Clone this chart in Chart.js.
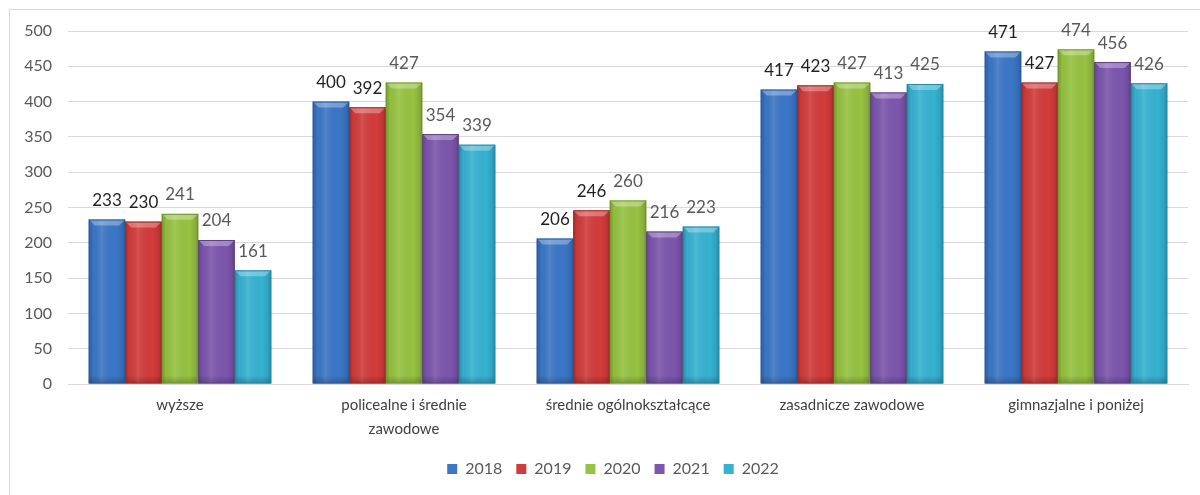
<!DOCTYPE html>
<html>
<head>
<meta charset="utf-8">
<script src="https://cdn.jsdelivr.net/npm/chart.js@4"></script>
<style>
  html, body { margin: 0; padding: 0; background: #fff; }
  body { width: 1200px; height: 495px; overflow: hidden; position: relative; }
  #frame { position: absolute; left: 9px; top: 9px; width: 1200px; height: 500px; border: 1px solid #d9d9d9; box-sizing: border-box; }
  #wrap { position: absolute; left: 0; top: 0; width: 1200px; height: 495px; }
</style>
</head>
<body>
<div id="frame"></div>
<div id="wrap"><canvas id="c"></canvas></div>
<script>
const categories = ["wyższe", ["policealne i średnie", "zawodowe"], "średnie ogólnokształcące", "zasadnicze zawodowe", "gimnazjalne i poniżej"];
const seriesNames = ["2018", "2019", "2020", "2021", "2022"];
const v2018 = [233, 400, 206, 417, 471];
const v2019 = [230, 392, 246, 423, 427];
const v2020 = [241, 427, 260, 427, 474];
const v2021 = [204, 354, 216, 413, 456];
const v2022 = [161, 339, 223, 425, 426];
const seriesValues = [v2018, v2019, v2020, v2021, v2022];
const yTicks = [0, 50, 100, 150, 200, 250, 300, 350, 400, 450, 500];

const baseColors = ["#3b77c6", "#d23c3c", "#97c342", "#7d56ad", "#36b2d2"];
const edgeColors = ["#2a5a9c", "#a42a2a", "#729a2c", "#5e4185", "#2588a3"];
const labelColors = ["#1f1f1f", "#1f1f1f", "#595959", "#595959", "#595959"];
const FONT = "Lato, 'Open Sans', sans-serif";

const barShade = {
  id: 'barShade',
  afterDatasetsDraw(chart) {
    const ctx = chart.ctx;
    const area = chart.chartArea;
    ctx.save();
    ctx.beginPath();
    ctx.rect(area.left, area.top - 40, area.right - area.left, area.bottom - area.top + 41);
    ctx.clip();
    chart.data.datasets.forEach((ds, di) => {
      const meta = chart.getDatasetMeta(di);
      meta.data.forEach((bar) => {
        const p = bar.getProps(['x', 'y', 'base', 'width'], true);
        const l = p.x - p.width / 2, r = p.x + p.width / 2;
        const t = Math.min(p.y, p.base), b = Math.max(p.y, p.base);
        const g = ctx.createLinearGradient(l, 0, r, 0);
        g.addColorStop(0, 'rgba(0,0,0,0.22)');
        g.addColorStop(0.12, 'rgba(0,0,0,0.03)');
        g.addColorStop(0.35, 'rgba(255,255,255,0.10)');
        g.addColorStop(0.75, 'rgba(0,0,0,0.0)');
        g.addColorStop(0.92, 'rgba(0,0,0,0.10)');
        g.addColorStop(1, 'rgba(0,0,0,0.26)');
        ctx.fillStyle = g;
        ctx.fillRect(l, t, r - l, b - t);
        const bv = 6;
        ctx.beginPath();
        ctx.moveTo(l, t);
        ctx.lineTo(r, t);
        ctx.lineTo(r - bv, t + bv);
        ctx.lineTo(l + bv, t + bv);
        ctx.closePath();
        ctx.fillStyle = 'rgba(255,255,255,0.30)';
        ctx.fill();
        const gb = ctx.createLinearGradient(0, b - 8, 0, b);
        gb.addColorStop(0, 'rgba(0,0,0,0)');
        gb.addColorStop(1, 'rgba(0,0,0,0.22)');
        ctx.fillStyle = gb;
        ctx.fillRect(l, b - 8, r - l, 8);
        ctx.strokeStyle = edgeColors[di];
        ctx.lineWidth = 1;
        ctx.strokeRect(l + 0.5, t + 0.5, r - l - 1, b - t - 1);
      });
    });
    ctx.restore();
  }
};

const valueLabels = {
  id: 'valueLabels',
  afterDatasetsDraw(chart) {
    const ctx = chart.ctx;
    ctx.save();
    ctx.font = "17px " + FONT;
    ctx.textAlign = 'center';
    ctx.textBaseline = 'middle';
    chart.data.datasets.forEach((ds, di) => {
      const meta = chart.getDatasetMeta(di);
      meta.data.forEach((bar, i) => {
        const p = bar.getProps(['x', 'y'], true);
        ctx.fillStyle = labelColors[di];
        ctx.fillText(String(ds.data[i]), p.x, p.y - 19);
      });
    });
    ctx.restore();
  }
};

const legendShift = {
  id: 'legendShift',
  afterLayout(chart) {
    if (chart.legend) {
      chart.legend.left += 19;
      chart.legend.right += 19;
    }
  }
};

const datasets = seriesNames.map((name, i) => ({
  label: name,
  data: seriesValues[i],
  backgroundColor: baseColors[i],
  borderWidth: 0,
  barPercentage: 1.0,
  categoryPercentage: 0.815
}));

new Chart(document.getElementById('c'), {
  type: 'bar',
  data: { labels: categories, datasets },
  options: {
    responsive: true,
    maintainAspectRatio: false,
    animation: false,
    layout: { padding: { top: 31, right: 12, bottom: 8, left: 0 } },
    plugins: {
      legend: {
        position: 'bottom',
        labels: {
          font: { family: FONT, size: 16 },
          color: '#595959',
          boxWidth: 10,
          boxHeight: 10,
          padding: 14
        }
      },
      tooltip: { enabled: false }
    },
    scales: {
      x: {
        grid: { display: false, drawTicks: false },
        border: { display: true, color: '#d9d9d9' },
        ticks: { font: { family: FONT, size: 15, lineHeight: 1.6 }, color: '#404040', padding: 9, maxRotation: 0, autoSkip: false },
        afterFit(scale) { scale.height = 63; }
      },
      y: {
        min: 0, max: 500,
        afterBuildTicks(scale) { scale.ticks = yTicks.map(v => ({ value: v })); },
        grid: { color: '#d9d9d9', drawTicks: false },
        border: { display: false },
        ticks: { font: { family: FONT, size: 16 }, color: '#595959', padding: 16 },
        afterFit(scale) { scale.width = 68; }
      }
    }
  },
  plugins: [barShade, valueLabels, legendShift]
});
</script>
</body>
</html>
